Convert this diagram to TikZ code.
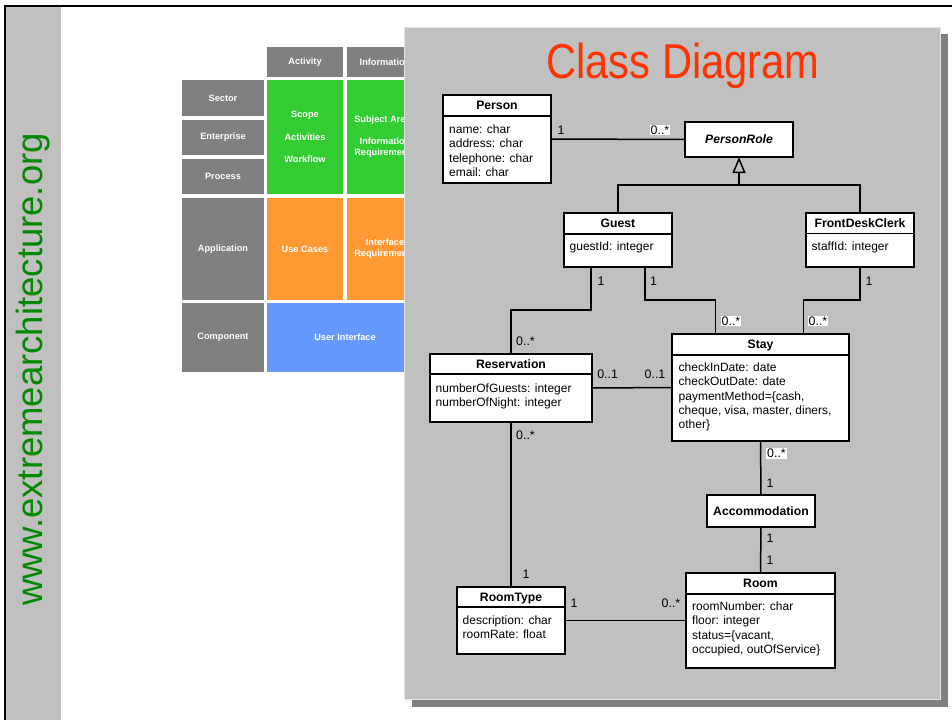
\documentclass[tikz,border=0pt]{standalone}
\usepackage{fontspec}
\setmainfont{Liberation Sans}
\usepackage{graphicx}
\usetikzlibrary{arrows.meta}
\definecolor{panelgray}{HTML}{C0C0C0}
\definecolor{panelrim}{HTML}{E4E4E4}
\definecolor{shadowgray}{HTML}{808080}
\definecolor{zgrayc}{HTML}{808080}
\definecolor{zgreenc}{HTML}{33CC33}
\definecolor{zorangec}{HTML}{FF9933}
\definecolor{zbluec}{HTML}{6699FF}
\definecolor{titlered}{HTML}{FF3300}
\definecolor{urlgreen}{HTML}{008800}
\begin{document}
\begin{tikzpicture}[x=1pt,y=-1pt,
  cls/.style={draw=black, line width=2pt, fill=white, inner sep=0pt, outer sep=0pt, anchor=north west},
  divline/.style={line width=1.5pt},
  conn/.style={line width=1.5pt},
  cname/.style={anchor=base, inner sep=0pt, font=\bfseries\fontsize{12.2}{14.3}\selectfont},
  attr/.style={anchor=north west, align=left, inner sep=0pt, font=\fontsize{12}{14.3}\selectfont},
  mult/.style={inner sep=0.8pt, font=\fontsize{12.4}{14}\selectfont},
  multw/.style={mult, fill=white},
  zcell/.style={anchor=north west, inner sep=0pt, outer sep=0pt, text=white, align=center, font=\bfseries\fontsize{9.2}{11}\selectfont},
]
\useasboundingbox (0,0) rectangle (952,720);
\fill[white] (0,0) rectangle (952,720);
% frame and side strip
\fill[panelgray] (6,7) rectangle (61,720);
\draw[black, line width=2.4pt] (4,6) -- (952,6);
\draw[black, line width=2pt] (5,5) -- (5,720);
\node[anchor=base west, rotate=90, inner sep=0pt, text=urlgreen, font=\fontsize{36.5}{40}\selectfont] (url) at (42,606) {www.extremearchitecture.org};

% Zachman grid
\node[zcell, fill=zgrayc, minimum width=76pt, minimum height=30pt] (hact) at (267,47) {Activity};
\node[zcell, fill=zgrayc, minimum width=76pt, minimum height=30pt] (hinfo) at (347,47) {Information};
\node[zcell, fill=zgrayc, minimum width=82pt, minimum height=36pt] (rsector) at (182,80) {Sector};
\node[zcell, fill=zgrayc, minimum width=82pt, minimum height=35pt] (renter) at (182,120) {Enterprise};
\node[zcell, fill=zgrayc, minimum width=82pt, minimum height=35pt] (rproc) at (182,159) {Process};
\node[zcell, fill=zgrayc, minimum width=82pt, minimum height=102pt] (rapp) at (182,198) {Application};
\node[zcell, fill=zgrayc, minimum width=82pt, minimum height=69pt] (rcomp) at (182,303) {Component};
\node[zcell, fill=zgreenc, minimum width=76pt, minimum height=114pt, font=\bfseries\fontsize{9.2}{22.5}\selectfont] (gact) at (267,80) {Scope\\Activities\\Workflow};
\node[zcell, fill=zgreenc, minimum width=76pt, minimum height=114pt] (ginfo) at (347,80) {Subject Areas\\[11pt]Information\\Requirements};
\node[zcell, fill=zorangec, minimum width=76pt, minimum height=102pt] (oact) at (267,198) {Use Cases};
\node[zcell, fill=zorangec, minimum width=76pt, minimum height=102pt] (oinfo) at (347,198) {Interface\\Requirements};
\node[zcell, fill=zbluec, minimum width=156pt, minimum height=69pt] (bui) at (267,303) {User Interface};

% panel with shadow
\fill[shadowgray] (412,34) rectangle (948,707);
\filldraw[fill=panelgray, draw=panelrim, line width=1pt] (404,27) rectangle (940,699);
\node[anchor=base, text=titlered, inner sep=0pt, font=\fontsize{49}{50}\selectfont] (title) at (683,78) {\scalebox{0.85}[1]{Class Diagram}};

% classes
\node[cls, minimum width=108pt, minimum height=88pt] (person) at (443,95) {};
\draw[divline] (person.west |- 0,116) -- (person.east |- 0,116);
\node[cname] (personT) at (497,109.8) {Person};
\node[attr] (personA) at (449,123.4) {\strut name: char\\address: char\\telephone: char\\email: char};

\node[cls, minimum width=108pt, minimum height=35pt] (personrole) at (685,122) {};
\node[cname, font=\bfseries\itshape\fontsize{12.2}{14.3}\selectfont] (personroleT) at (739,143.8) {PersonRole};

\node[cls, minimum width=108pt, minimum height=54pt] (guest) at (564,213) {};
\draw[divline] (guest.west |- 0,234) -- (guest.east |- 0,234);
\node[cname] (guestT) at (618,227.5) {Guest};
\node[attr] (guestA) at (569.5,240.1) {\strut guestId: integer};

\node[cls, minimum width=108pt, minimum height=54pt] (fdc) at (806,213) {};
\draw[divline] (fdc.west |- 0,233.5) -- (fdc.east |- 0,233.5);
\node[cname] (fdcT) at (860,227.3) {FrontDeskClerk};
\node[attr] (fdcA) at (811.5,240.1) {\strut staffId: integer};

\node[cls, minimum width=162pt, minimum height=68pt] (reservation) at (430,354) {};
\draw[divline] (reservation.west |- 0,374) -- (reservation.east |- 0,374);
\node[cname] (reservationT) at (511,368.3) {Reservation};
\node[attr] (reservationA) at (435.5,382.4) {\strut numberOfGuests: integer\\numberOfNight: integer};

\node[cls, minimum width=177pt, minimum height=107pt] (stay) at (672,334) {};
\draw[divline] (stay.west |- 0,355) -- (stay.east |- 0,355);
\node[cname] (stayT) at (760.5,348.3) {Stay};
\node[attr] (stayA) at (678.5,361.4) {\strut checkInDate: date\\checkOutDate: date\\paymentMethod=\{cash,\\cheque, visa, master, diners,\\other\}};

\node[cls, minimum width=108pt, minimum height=32pt] (accommodation) at (707,495) {};
\node[cname] (accommodationT) at (761,515) {Accommodation};

\node[cls, minimum width=149pt, minimum height=95pt] (room) at (686,573) {};
\draw[divline] (room.west |- 0,594) -- (room.east |- 0,594);
\node[cname] (roomT) at (760.5,587.8) {Room};
\node[attr] (roomA) at (692,600.4) {\strut roomNumber: char\\floor: integer\\status=\{vacant,\\occupied, outOfService\}};

\node[cls, minimum width=108pt, minimum height=67pt] (roomtype) at (457,587) {};
\draw[divline] (roomtype.west |- 0,607) -- (roomtype.east |- 0,607);
\node[cname] (roomtypeT) at (511,601.1) {RoomType};
\node[attr] (roomtypeA) at (462.5,614.4) {\strut description: char\\roomRate: float};

% connectors
\draw[conn] (person.east) -- (personrole.west);
\coordinate (genjoin) at (739,185);
\draw[conn] (guest.north) |- (genjoin) -| (fdc.north);
\draw[conn, -{Triangle[open, width=13pt, length=16pt, line width=1.5pt]}] (genjoin) -- (personrole.south);
\draw[conn] ([xshift=-27pt]guest.south) -- ++(0,43) -| (reservation.north);
\draw[conn] ([xshift=27pt]guest.south) -- ++(0,33) -| ([xshift=-45pt]stay.north);
\draw[conn] (fdc.south) -- ++(0,33) -| ([xshift=43pt]stay.north);
\draw[conn] (reservation.east) -- (stay.west);
\draw[conn] (stay.south) -- (accommodation.north);
\draw[conn] (accommodation.south) -- (room.north);
\draw[conn] (reservation.south) -- (roomtype.north);
\draw[conn] (roomtype.east) -- (room.west);

% multiplicities
\node[mult] (m1) at (561,130) {1};
\node[multw] (m2) at (660,130) {0..*};
\node[mult] (m3) at (601,281) {1};
\node[mult] (m4) at (653.5,281) {1};
\node[mult] (m5) at (869,281) {1};
\node[multw] (m6) at (731,321) {0..*};
\node[multw] (m7) at (818,321) {0..*};
\node[mult] (m8) at (525.5,341) {0..*};
\node[mult] (m9) at (607.6,374) {0..1};
\node[mult] (m10) at (655,374) {0..1};
\node[mult] (m11) at (525.5,435) {0..*};
\node[mult] (m12) at (526,574) {1};
\node[multw] (m13) at (776.5,453.5) {0..*};
\node[mult] (m14) at (770,483) {1};
\node[mult] (m15) at (770,538) {1};
\node[mult] (m16) at (770,560) {1};
\node[mult] (m17) at (574,603) {1};
\node[mult] (m18) at (671,603) {0..*};
\end{tikzpicture}
\end{document}
